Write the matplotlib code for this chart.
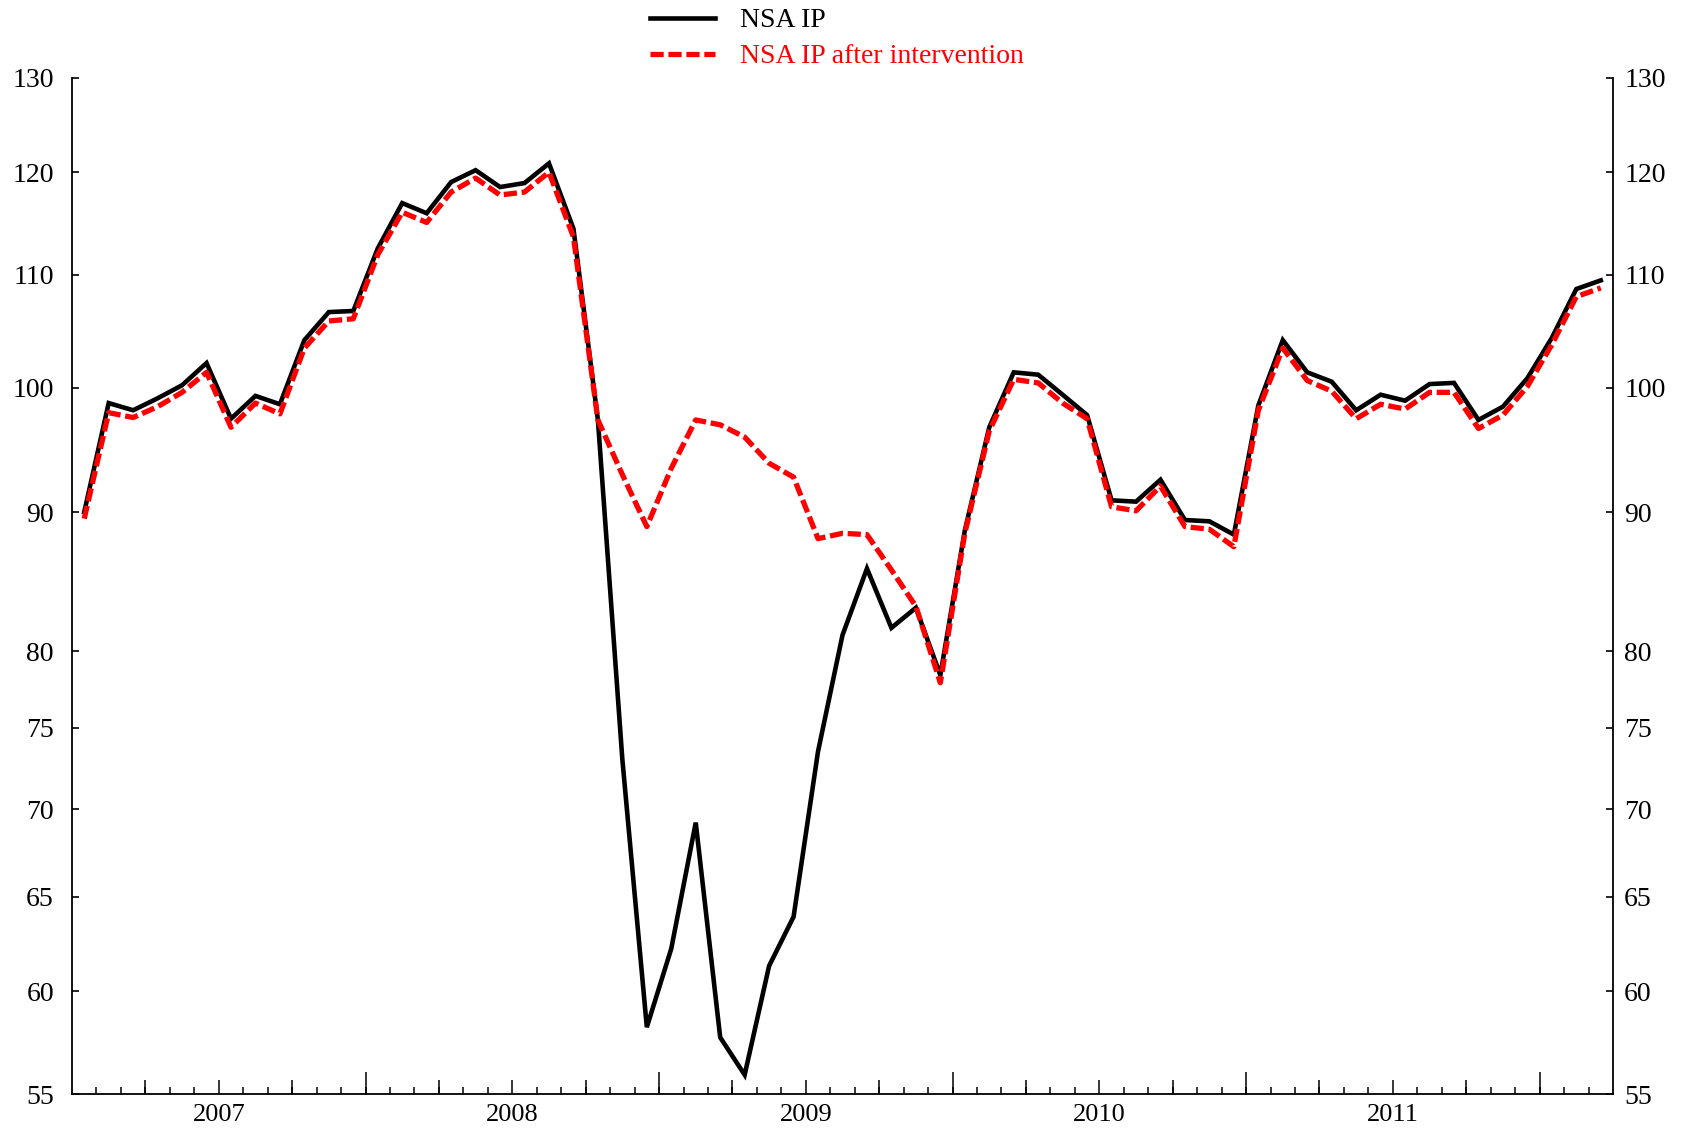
import numpy as np
import matplotlib
matplotlib.use("Agg")
import matplotlib.pyplot as plt
from matplotlib.ticker import NullLocator

plt.rcParams['font.family'] = ['Liberation Serif', 'DejaVu Serif']

# monthly index, Jan 2007 - Mar 2012
nsa_ip = [90.0, 98.7, 98.1, 99.1, 100.2, 102.1, 97.4, 99.3, 98.6, 104.1, 106.6, 106.7,
          112.5, 116.9, 115.9, 119.0, 120.2, 118.5, 118.9, 120.9, 114.4, 97.3, 73.0, 58.2,
          62.2, 69.2, 57.7, 55.9, 61.3, 63.9, 73.5, 81.1, 85.8, 81.6, 83.0, 78.4,
          88.6, 96.7, 101.3, 101.1, 99.4, 97.7, 90.9, 90.8, 92.5, 89.4, 89.3, 88.3,
          98.5, 104.1, 101.3, 100.5, 98.1, 99.4, 98.9, 100.3, 100.4, 97.3, 98.4, 100.8,
          104.3, 108.7, 109.5]
nsa_ip_after = [89.5, 97.9, 97.5, 98.4, 99.6, 101.3, 96.7, 98.7, 97.8, 103.4, 105.8, 106.0,
                111.9, 116.0, 115.0, 118.0, 119.4, 117.7, 118.0, 120.0, 113.6, 97.3, 92.9, 88.9,
                93.4, 97.3, 96.9, 95.9, 93.8, 92.7, 88.0, 88.4, 88.3, 85.7, 83.1, 77.9,
                88.4, 96.4, 100.7, 100.4, 98.7, 97.4, 90.4, 90.1, 92.0, 88.9, 88.7, 87.4,
                98.1, 103.4, 100.6, 99.7, 97.4, 98.6, 98.2, 99.6, 99.6, 96.6, 97.7, 100.1,
                103.7, 108.0, 108.8]
years = ['2007', '2008', '2009', '2010', '2011']
y_ticks = [55, 60, 65, 70, 75, 80, 90, 100, 110, 120, 130]
y_labels = [str(v) for v in y_ticks]

n_months = 63                              # axis runs Jan 2007 .. Apr 2012
x = np.arange(len(nsa_ip)) + 0.5           # points sit mid-month

fig = plt.figure(figsize=(16.9, 11.35), dpi=100)
ax = fig.add_axes([72 / 1690, 1 - 1094 / 1135, (1613 - 72) / 1690, (1094 - 77.6) / 1135])

l1, = ax.plot(x, nsa_ip, color='black', lw=3.3, solid_joinstyle='miter', zorder=2)
l2, = ax.plot(x, nsa_ip_after, color='red', lw=3.8, dashes=(2.5, 0.9), zorder=3)

ax.set_yscale('log')
ax.set_ylim(55, 130)
ax.set_xlim(0, n_months)
ax.set_yticks(y_ticks)
ax.set_yticklabels(y_labels)
ax.yaxis.set_minor_locator(NullLocator())
ax.tick_params(axis='y', which='major', direction='in', length=5, width=1.2,
               left=True, right=True, labelleft=True, labelright=False,
               labelsize=20, pad=13)

# right hand labels sit a bit closer to the spine
sec_r = ax.secondary_yaxis('right')
sec_r.set_yticks(y_ticks)
sec_r.set_yticklabels(y_labels)
sec_r.yaxis.set_minor_locator(NullLocator())
sec_r.tick_params(axis='y', which='major', direction='in', length=0, labelsize=20, pad=8)
sec_r.spines['right'].set_visible(False)

# year labels centred in each year, monthly small ticks
ax.set_xticks([12 * i + 6 for i in range(len(years))])
ax.set_xticklabels(years)
ax.set_xticks(np.arange(1, n_months), minor=True)
ax.tick_params(axis='x', which='major', length=0, labelsize=19, pad=7)
ax.tick_params(axis='x', which='minor', direction='in', length=5.4, width=1.1)

# quarterly and yearly ticks
quarters = [m for m in range(3, n_months, 3) if m % 12 != 0]
sec_q = ax.secondary_xaxis('bottom')
sec_q.set_xticks(quarters)
sec_q.tick_params(direction='in', length=10, width=1.1, labelbottom=False)
sec_q.spines['bottom'].set_visible(False)

sec_y = ax.secondary_xaxis('bottom')
sec_y.set_xticks(list(range(12, n_months, 12)))
sec_y.tick_params(direction='in', length=16, width=1.1, labelbottom=False)
sec_y.spines['bottom'].set_visible(False)

ax.spines['top'].set_visible(False)
for s in ['left', 'right', 'bottom']:
    ax.spines[s].set_linewidth(1.3)

fig.legend([l1, l2], ['NSA IP', 'NSA IP after intervention'],
           loc='upper left', bbox_to_anchor=(650 / 1690, 1 - 8 / 1135),
           frameon=False, fontsize=20, handlelength=2.35, handletextpad=0.9,
           labelspacing=0.38, borderpad=0, borderaxespad=0, labelcolor='linecolor')

fig.savefig('out.png', dpi=100)
